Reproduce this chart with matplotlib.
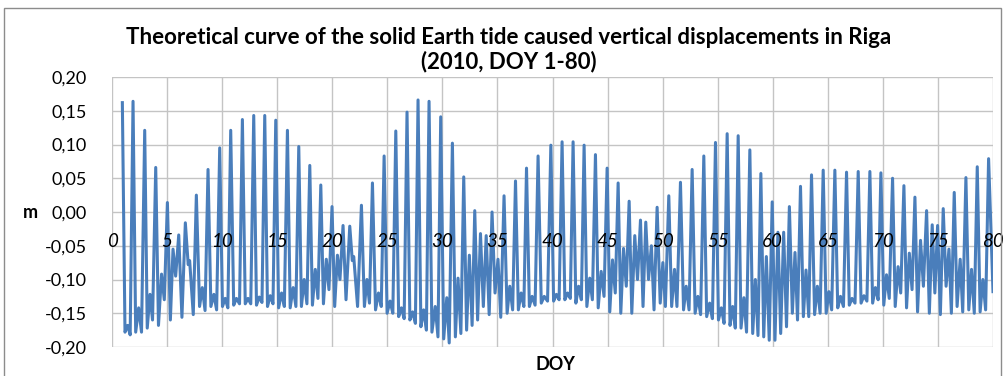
import numpy as np
import matplotlib
matplotlib.use("Agg")
import matplotlib.pyplot as plt
from matplotlib.patches import Rectangle

plt.rcParams['font.family'] = ['Lato', 'DejaVu Sans']

# higher and lower high waters (day of year offset, metres)
high_day = [0.94, 1.42, 1.91, 2.42, 2.97, 3.45, 3.97, 4.50, 5.03, 5.54, 6.06, 6.66, 7.05, 7.66,
            8.20, 8.72, 9.25, 9.78, 10.28, 10.78, 11.30, 11.84, 12.35, 12.87, 13.37, 13.87,
            14.37, 14.87, 15.40, 15.93, 16.45, 16.96, 17.45, 17.96, 18.46, 18.96, 19.46, 19.98,
            20.47, 20.98, 21.59, 21.95, 22.65, 23.15, 23.65, 24.20, 24.71, 25.25, 25.77, 26.28,
            26.79, 27.30, 27.79, 28.30, 28.79, 29.35, 29.85, 30.40, 30.91, 31.42, 31.94, 32.45,
            32.94, 33.46, 33.98, 34.51, 35.05, 35.60, 36.12, 36.64, 37.15, 37.64, 38.15, 38.69,
            39.25, 39.85, 40.35, 40.87, 41.37, 41.87, 42.37, 42.87, 43.38, 43.90, 44.42, 44.96,
            45.45, 45.96, 46.45, 46.96, 47.47, 47.99, 48.47, 48.98, 49.50, 50.02, 50.56, 51.08,
            51.62, 52.14, 52.68, 53.20, 53.74, 54.27, 54.80, 55.33, 55.86, 56.36, 56.86, 57.38,
            57.92, 58.42, 58.92, 59.42, 59.95, 60.47, 60.99, 61.51, 62.02, 62.52, 63.02, 63.52,
            64.05, 64.58, 65.10, 65.64, 66.15, 66.70, 67.20, 67.76, 68.28, 68.82, 69.32, 69.82,
            70.33, 70.88, 71.38, 71.91, 72.40, 72.91, 73.42, 73.97, 74.48, 74.97, 75.48, 76.00,
            76.48, 77.02, 77.54, 78.05, 78.57, 79.08, 79.60]
high_val = [0.162, -0.168, 0.164, -0.142, 0.121, -0.122, 0.066, -0.092, 0.014, -0.055, -0.034,
            -0.016, -0.072, 0.025, -0.112, 0.063, -0.122, 0.095, -0.128, 0.121, -0.128, 0.137,
            -0.128, 0.143, -0.126, 0.143, -0.124, 0.136, -0.120, 0.121, -0.112, 0.097, -0.100,
            0.069, -0.085, 0.040, -0.070, 0.008, -0.064, -0.020, -0.021, -0.066, 0.010, -0.100,
            0.043, -0.120, 0.083, -0.132, 0.120, -0.142, 0.148, -0.148, 0.166, -0.145, 0.164,
            -0.140, 0.141, -0.127, 0.102, -0.098, 0.052, -0.064, 0.002, -0.032, -0.035, 0.000,
            -0.070, 0.024, -0.110, 0.046, -0.120, 0.065, -0.125, 0.083, -0.125, 0.099, -0.122,
            0.104, -0.120, 0.104, -0.110, 0.099, -0.098, 0.085, -0.088, 0.065, -0.071, 0.043,
            -0.054, 0.016, -0.035, -0.012, -0.015, -0.050, 0.007, -0.075, 0.024, -0.085, 0.044,
            -0.110, 0.063, -0.125, 0.083, -0.135, 0.103, -0.142, 0.116, -0.140, 0.113, -0.127,
            0.092, -0.100, 0.057, -0.066, 0.015, -0.030, -0.030, 0.008, -0.060, 0.038, -0.086,
            0.055, -0.110, 0.062, -0.118, 0.062, -0.125, 0.059, -0.128, 0.060, -0.124, 0.060,
            -0.112, 0.058, -0.093, 0.050, -0.081, 0.039, -0.061, 0.022, -0.042, 0.002, -0.019,
            -0.020, 0.005, -0.055, 0.029, -0.070, 0.051, -0.085, 0.067, -0.100, 0.079]

# low waters
low_day = [1.18, 1.65, 2.15, 2.68, 3.20, 3.68, 4.22, 4.75, 5.30, 5.78, 6.35, 6.92, 7.38, 7.95,
           8.45, 8.98, 9.50, 10.03, 10.52, 11.05, 11.58, 12.10, 12.60, 13.12, 13.62, 14.12,
           14.62, 15.13, 15.65, 16.18, 16.70, 17.20, 17.70, 18.20, 18.70, 19.20, 19.70, 20.22,
           20.70, 21.25, 21.82, 22.30, 22.92, 23.38, 23.93, 24.45, 24.98, 25.50, 26.03, 26.53,
           27.05, 27.55, 28.05, 28.55, 29.05, 29.60, 30.12, 30.62, 31.18, 31.68, 32.20, 32.70,
           33.20, 33.72, 34.25, 34.78, 35.30, 35.88, 36.38, 36.90, 37.40, 37.90, 38.42, 38.98,
           39.55, 40.10, 40.60, 41.12, 41.62, 42.12, 42.62, 43.12, 43.62, 44.15, 44.68, 45.20,
           45.70, 46.20, 46.70, 47.20, 47.72, 48.22, 48.72, 49.22, 49.78, 50.25, 50.82, 51.30,
           51.90, 52.40, 52.95, 53.45, 54.00, 54.52, 55.07, 55.58, 56.12, 56.60, 57.12, 57.62,
           58.18, 58.66, 59.18, 59.68, 60.20, 60.72, 61.25, 61.78, 62.25, 62.78, 63.27, 63.80,
           64.30, 64.85, 65.35, 65.90, 66.42, 66.95, 67.47, 68.02, 68.55, 69.07, 69.57, 70.08,
           70.58, 71.12, 71.62, 72.15, 72.65, 73.15, 73.68, 74.22, 74.72, 75.22, 75.74, 76.22,
           76.74, 77.25, 77.80, 78.30, 78.83, 79.33, 80.00]
low_val = [-0.178, -0.182, -0.178, -0.178, -0.172, -0.160, -0.168, -0.130, -0.160, -0.095,
           -0.156, -0.078, -0.152, -0.140, -0.146, -0.140, -0.145, -0.140, -0.142, -0.138,
           -0.136, -0.136, -0.136, -0.138, -0.134, -0.140, -0.136, -0.142, -0.140, -0.142,
           -0.140, -0.140, -0.136, -0.138, -0.128, -0.136, -0.115, -0.140, -0.100, -0.130,
           -0.072, -0.140, -0.140, -0.135, -0.145, -0.140, -0.150, -0.150, -0.155, -0.158,
           -0.160, -0.165, -0.170, -0.175, -0.178, -0.185, -0.188, -0.194, -0.185, -0.180,
           -0.175, -0.168, -0.160, -0.140, -0.152, -0.120, -0.156, -0.150, -0.145, -0.145,
           -0.140, -0.140, -0.138, -0.135, -0.132, -0.132, -0.130, -0.130, -0.128, -0.135,
           -0.130, -0.140, -0.130, -0.142, -0.125, -0.148, -0.120, -0.150, -0.110, -0.150,
           -0.100, -0.140, -0.100, -0.145, -0.135, -0.140, -0.140, -0.140, -0.145, -0.145,
           -0.150, -0.152, -0.155, -0.158, -0.160, -0.165, -0.168, -0.172, -0.172, -0.178,
           -0.180, -0.183, -0.185, -0.190, -0.190, -0.180, -0.170, -0.150, -0.160, -0.155,
           -0.155, -0.152, -0.150, -0.150, -0.145, -0.142, -0.140, -0.138, -0.135, -0.135,
           -0.132, -0.135, -0.130, -0.138, -0.128, -0.140, -0.120, -0.142, -0.115, -0.148,
           -0.110, -0.150, -0.120, -0.152, -0.110, -0.150, -0.140, -0.148, -0.145, -0.150,
           -0.148, -0.145, -0.118]

x_ticks = list(range(0, 81, 5))
x_tick_labels = [str(v) for v in x_ticks]
y_ticks = [0.20, 0.15, 0.10, 0.05, 0.00, -0.05, -0.10, -0.15, -0.20]
y_tick_labels = ["0,20", "0,15", "0,10", "0,05", "0,00", "-0,05", "-0,10", "-0,15", "-0,20"]

title_line1 = "Theoretical curve of the solid Earth tide caused vertical displacements in Riga"
title_line2 = "(2010, DOY 1-80)"

W, H = 1006, 376
fig = plt.figure(figsize=(W / 100, H / 100), dpi=100)
fig.patch.set_facecolor('white')

# chart border
fig.patches.append(Rectangle((4 / W, -0.01), (1001 - 4) / W, 1 - 8 / H + 0.01,
                             transform=fig.transFigure, fill=False,
                             edgecolor='#8c8c8c', lw=1.0))

left, right, top, bottom = 112, 993, 77, 347
ax = fig.add_axes([left / W, 1 - bottom / H, (right - left) / W, (bottom - top) / H])

days = np.array(high_day + low_day)
vals = np.array(high_val + low_val)
order = np.argsort(days)
ax.plot(days[order], vals[order], color='#4a7ebb', lw=2.2, solid_joinstyle='round', zorder=3)

ax.set_xlim(0, 80)
ax.set_ylim(-0.2, 0.2)
ax.set_xticks(x_ticks)
ax.set_yticks(y_ticks)
ax.set_xticklabels([])
ax.set_yticklabels(y_tick_labels, fontsize=13, color='#000000')
ax.tick_params(axis='both', length=0)
ax.tick_params(axis='y', pad=18)
ax.grid(True, color='#c4c4c4', lw=1.0, zorder=0)
for s in ax.spines.values():
    s.set_visible(False)

for xt, lab in zip(x_ticks, x_tick_labels):
    ax.text(xt, -0.044, lab, ha='center', va='center', style='italic', fontsize=13.5,
            color='#000000', zorder=4)

fig.text(509 / W, 1 - 37 / H, title_line1, ha='center', va='center', fontsize=16,
         fontweight='bold')
fig.text(509 / W, 1 - 62 / H, title_line2, ha='center', va='center', fontsize=16,
         fontweight='bold')
fig.text(30 / W, 1 - 212 / H, "m", ha='center', va='center', fontsize=13, fontweight='bold')
fig.text(555 / W, 1 - 365 / H, "DOY", ha='center', va='center', fontsize=13, fontweight='bold')

fig.savefig("out.png", dpi=100)
